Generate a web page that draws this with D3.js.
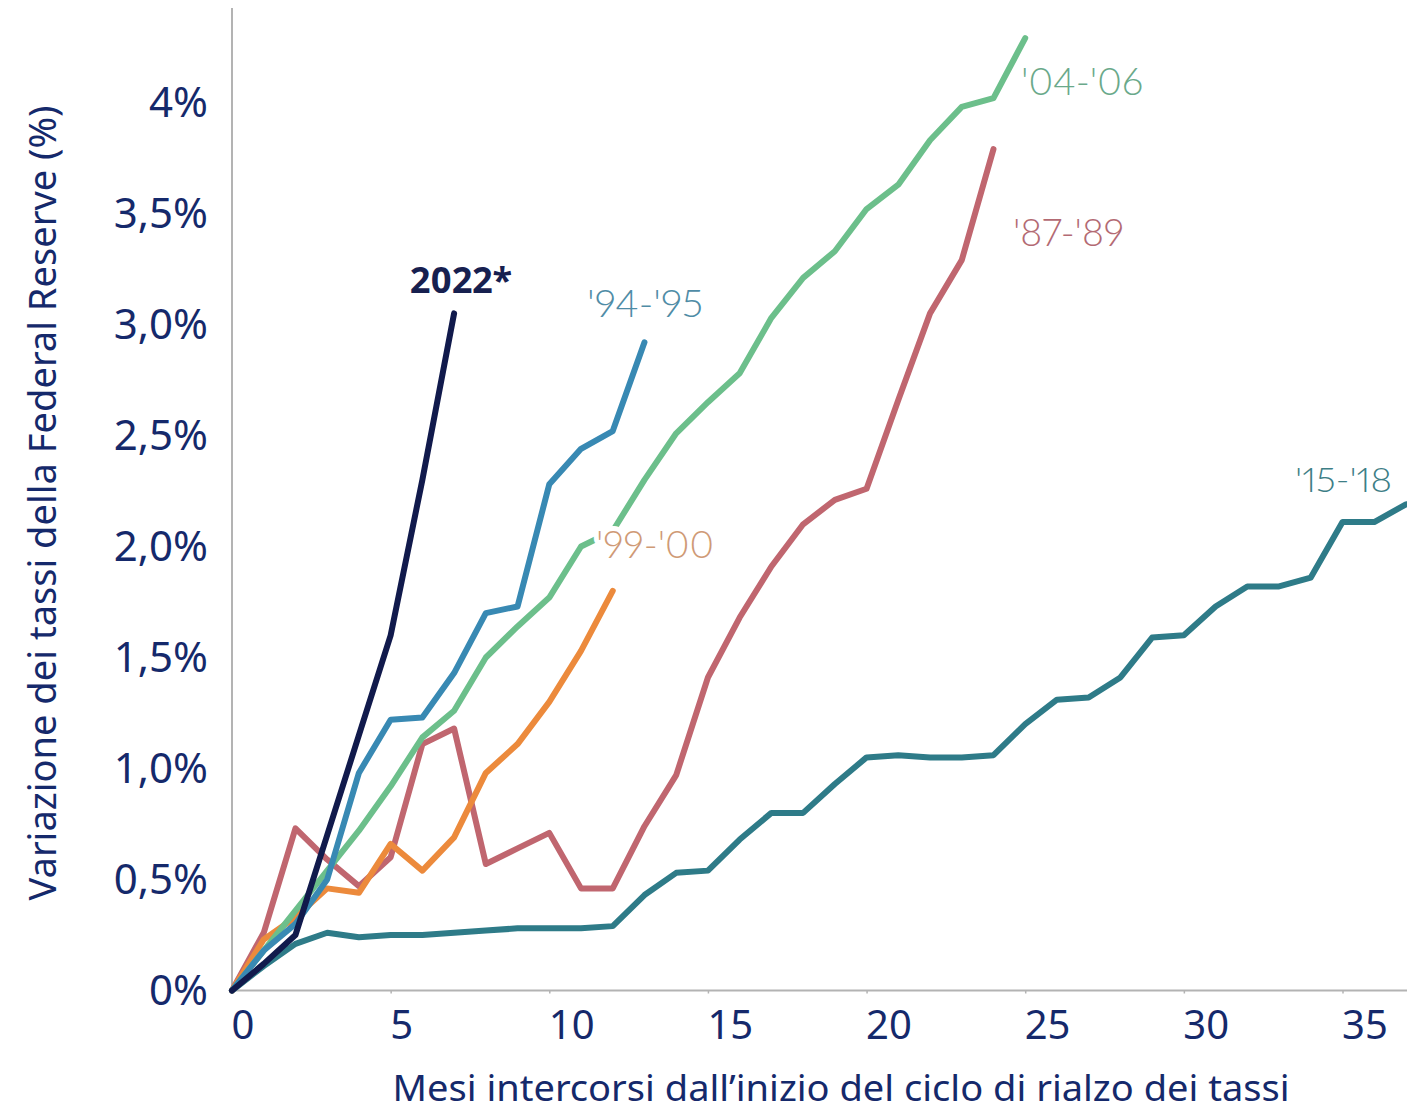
<!DOCTYPE html>
<html lang="it">
<head>
<meta charset="utf-8">
<title>Cicli di rialzo dei tassi della Federal Reserve</title>
<script src="https://cdn.jsdelivr.net/npm/d3@7"></script>
<style>
  html, body { margin: 0; padding: 0; background: #ffffff; }
  svg { display: block; }
</style>
</head>
<body>
<svg id="chart" width="1407" height="1113"></svg>
<script>
// Cumulative change in the Fed funds rate (percentage points), one value per month
const months2022 = [0, 0.12, 0.25, 0.70, 1.15, 1.60, 2.30, 3.05];
const months1994 = [0, 0.18, 0.30, 0.50, 0.98, 1.22, 1.23, 1.43, 1.70, 1.73, 2.28, 2.44, 2.52, 2.92];
const months2004 = [0, 0.18, 0.36, 0.54, 0.72, 0.92, 1.14, 1.26, 1.50, 1.64, 1.77, 2.00, 2.07,
                    2.30, 2.51, 2.65, 2.78, 3.03, 3.21, 3.33, 3.52, 3.63, 3.83, 3.98, 4.02, 4.29];
const months1999 = [0, 0.23, 0.33, 0.46, 0.44, 0.66, 0.54, 0.69, 0.98, 1.11, 1.30, 1.53, 1.80];
const months1987 = [0, 0.26, 0.73, 0.59, 0.47, 0.60, 1.11, 1.18, 0.57, 0.64, 0.71, 0.46, 0.46,
                    0.74, 0.97, 1.41, 1.68, 1.91, 2.10, 2.21, 2.26, 2.66, 3.05, 3.29, 3.79];
const months2015 = [0, 0.11, 0.21, 0.26, 0.24, 0.25, 0.25, 0.26, 0.27, 0.28, 0.28, 0.28, 0.29,
                    0.43, 0.53, 0.54, 0.68, 0.80, 0.80, 0.93, 1.05, 1.06, 1.05, 1.05, 1.06,
                    1.20, 1.31, 1.32, 1.41, 1.59, 1.60, 1.73, 1.82, 1.82, 1.86, 2.11, 2.11, 2.19];

// Series names shown as labels
const seriesNames = ["'15-'18", "'87-'89", "'99-'00", "'04-'06", "'94-'95", "2022*"];

// Axis ticks
const xTicks = [0, 5, 10, 15, 20, 25, 30, 35];
const yTicks = [0, 0.5, 1, 1.5, 2, 2.5, 3, 3.5, 4];
const yTickLabels = ["0%", "0,5%", "1,0%", "1,5%", "2,0%", "2,5%", "3,0%", "3,5%", "4%"];

const xTitle = "Mesi intercorsi dall\u2019inizio del ciclo di rialzo dei tassi";
const yTitle = "Variazione dei tassi della Federal Reserve (%)";

// Build series table (drawing order: back to front)
const series = [
  { name: seriesNames[0], values: months2015, color: "#2e7b88", labelColor: "#3d7e86", lx: 1295, ly: 492, w: 97, fs: 33 },
  { name: seriesNames[1], values: months1987, color: "#c0666f", labelColor: "#b36a73", lx: 1013, ly: 246, w: 111, fs: 37 },
  { name: seriesNames[2], values: months1999, color: "#ec8a3c", labelColor: "#cf9a76", lx: 596, ly: 558, w: 118, fs: 37, halo: true },
  { name: seriesNames[3], values: months2004, color: "#6cbf8b", labelColor: "#6aa98a", lx: 1021, ly: 95, w: 122, fs: 37 },
  { name: seriesNames[4], values: months1994, color: "#3889b3", labelColor: "#4f8ca6", lx: 587, ly: 317, w: 116, fs: 37 },
  { name: seriesNames[5], values: months2022, color: "#111a4c", labelColor: "#17204f", lx: 410, ly: 293, w: 102, fs: 36, bold: true }
];

const svg = d3.select("#chart");
const W = 1407, H = 1113;
const navy = "#15296b";
const axisGrey = "#b3b3b3";

const x = d3.scaleLinear().domain([0, 35]).range([232, 1342.5]);
const y = d3.scaleLinear().domain([0, 4]).range([990.5, 102.5]);

// Axes lines
svg.append("line")
  .attr("x1", 232).attr("x2", 232).attr("y1", 8).attr("y2", 992)
  .attr("stroke", axisGrey).attr("stroke-width", 2);

const xAxis = d3.axisBottom(x)
  .tickValues(xTicks)
  .tickSize(3)
  .tickSizeOuter(0)
  .tickFormat(d => String(d));

const gx = svg.append("g")
  .attr("transform", `translate(0, ${y(0)})`)
  .call(xAxis);
gx.select(".domain").attr("d", `M232,0H${W}`).attr("stroke", axisGrey).attr("stroke-width", 2);
gx.selectAll(".tick line").attr("stroke", axisGrey).attr("stroke-width", 1.5);
gx.selectAll(".tick text")
  .attr("fill", navy)
  .attr("font-family", "'Noto Sans', 'Open Sans', sans-serif")
  .attr("font-size", 40)
  .attr("text-anchor", "start")
  .attr("x", -1)
  .attr("y", 0)
  .attr("dy", 48);

const yAxis = d3.axisLeft(y)
  .tickValues(yTicks)
  .tickSize(0)
  .tickFormat((d, i) => yTickLabels[i]);

const gy = svg.append("g")
  .attr("transform", "translate(232, 0)")
  .call(yAxis);
gy.select(".domain").remove();
gy.selectAll(".tick text")
  .attr("fill", navy)
  .attr("font-family", "'Noto Sans', 'Open Sans', sans-serif")
  .attr("font-size", 42)
  .attr("x", -24)
  .attr("dy", "0.34em");

// Axis titles
svg.append("text")
  .attr("x", 841).attr("y", 1101)
  .attr("text-anchor", "middle")
  .attr("fill", navy)
  .attr("font-family", "'Noto Sans', 'Open Sans', sans-serif")
  .attr("font-size", 36)
  .attr("textLength", 897)
  .attr("lengthAdjust", "spacingAndGlyphs")
  .text(xTitle);

svg.append("text")
  .attr("transform", "translate(56, 503) rotate(-90)")
  .attr("text-anchor", "middle")
  .attr("fill", navy)
  .attr("font-family", "'Noto Sans', 'Open Sans', sans-serif")
  .attr("font-size", 38)
  .attr("textLength", 795)
  .attr("lengthAdjust", "spacingAndGlyphs")
  .text(yTitle);

// Series lines
const line = d3.line()
  .x((d, i) => x(i))
  .y(d => y(d));

const gLines = svg.append("g");
series.forEach(s => {
  gLines.append("path")
    .datum(s.values)
    .attr("d", line)
    .attr("fill", "none")
    .attr("stroke", s.color)
    .attr("stroke-width", 6)
    .attr("stroke-linejoin", "round")
    .attr("stroke-linecap", "round");
});

// Series labels
const gLabels = svg.append("g");
series.forEach(s => {
  const t = gLabels.append("text")
    .attr("x", s.lx).attr("y", s.ly)
    .attr("fill", s.labelColor)
    .attr("font-size", s.fs)
    .attr("textLength", s.w)
    .attr("lengthAdjust", "spacingAndGlyphs")
    .style("font-variant-numeric", "proportional-nums")
    .text(s.name);
  if (s.bold) {
    t.attr("font-family", "'Noto Sans', 'Open Sans', sans-serif")
     .attr("font-weight", 700);
  } else {
    t.attr("font-family", "Lato, 'Noto Sans', sans-serif")
     .attr("font-weight", 300);
  }
  if (s.halo) {
    t.attr("stroke", "#ffffff")
     .attr("stroke-width", 10)
     .attr("stroke-linejoin", "round")
     .attr("paint-order", "stroke");
  }
});
</script>
</body>
</html>
